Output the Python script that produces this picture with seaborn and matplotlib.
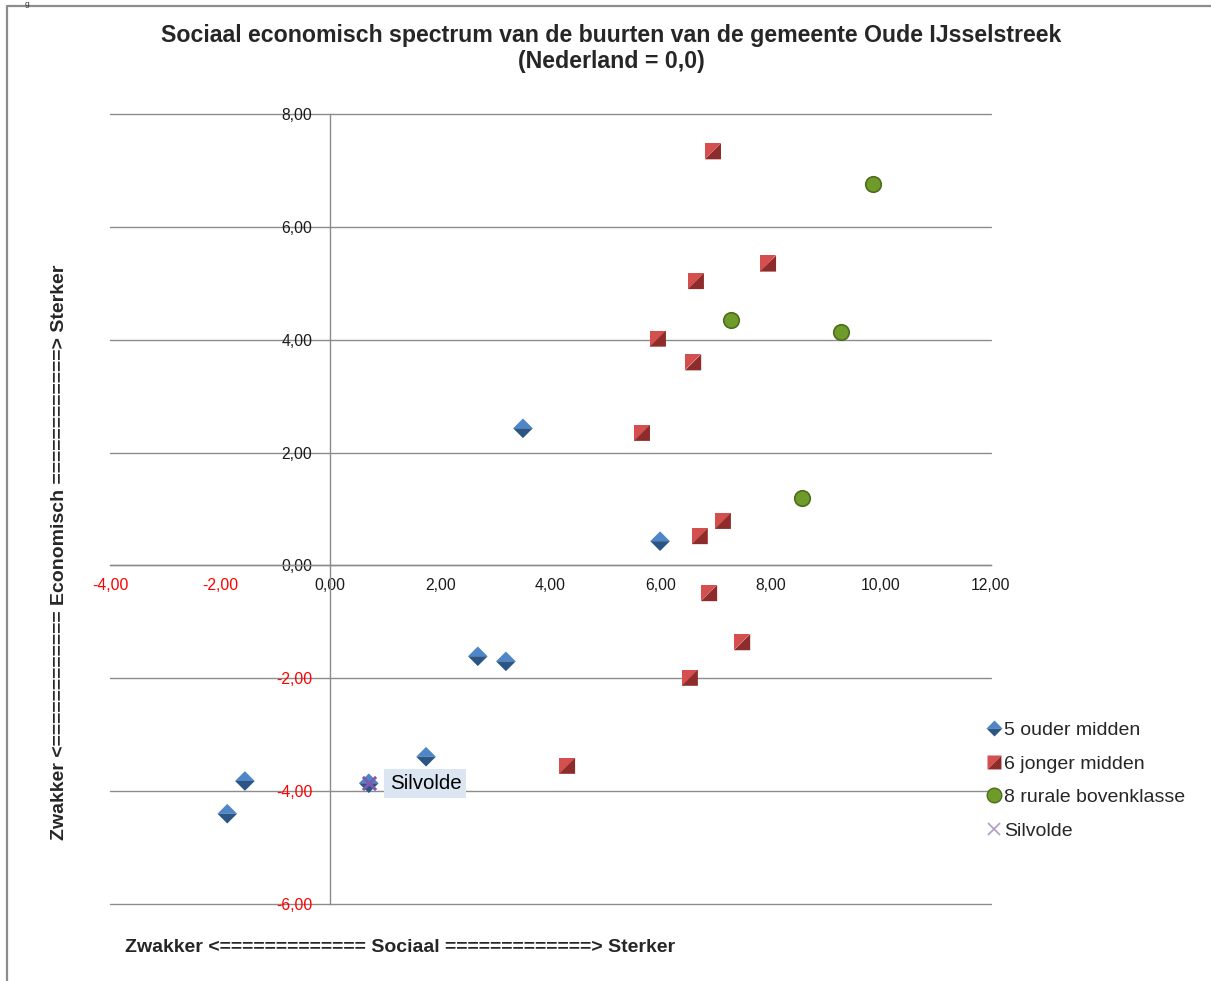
import numpy as np
import pandas as pd
import matplotlib
matplotlib.use("Agg")
import matplotlib.pyplot as plt
from matplotlib.path import Path
from matplotlib.lines import Line2D
from matplotlib.legend_handler import HandlerTuple
import seaborn as sns

# Buurten per groep: sociaal (x) en economisch (y) score, Nederland = 0,0
ouder_x = [3.50, 5.99, 2.68, 3.19, 1.74, -1.55, -1.87, 0.70]
ouder_y = [2.43, 0.43, -1.61, -1.70, -3.39, -3.82, -4.40, -3.86]
jonger_x = [6.95, 7.95, 6.64, 5.95, 6.59, 5.66, 7.13, 6.71, 6.88, 7.48, 6.53, 4.30]
jonger_y = [7.34, 5.35, 5.04, 4.02, 3.60, 2.35, 0.79, 0.52, -0.49, -1.36, -1.99, -3.55]
rural_x = [9.86, 7.28, 9.27, 8.57]
rural_y = [6.76, 4.35, 4.14, 1.19]
silvolde_x = [0.70]
silvolde_y = [-3.86]

series_names = ["5 ouder midden", "6 jonger midden", "8 rurale bovenklasse", "Silvolde"]
x_ticks = [-4, -2, 0, 2, 4, 6, 8, 10, 12]
y_ticks = [-6, -4, -2, 0, 2, 4, 6, 8]

title = "Sociaal economisch spectrum van de buurten van de gemeente Oude IJsselstreek\n(Nederland = 0,0)"
x_title = "Zwakker <============= Sociaal =============> Sterker"
y_title = "Zwakker <============ Economisch ============> Sterker"

sns.set_theme(style="white")
plt.rcParams["font.family"] = ["Liberation Sans", "DejaVu Sans"]

W, H = 1211, 981
fig = plt.figure(figsize=(W / 100, H / 100), dpi=100)
fig.patch.set_facecolor("white")
ax = fig.add_axes([110 / W, 1 - 904 / H, (991 - 110) / W, (904 - 114) / H])

# bevelled marker halves
diamond_top = Path([(-1, 0), (0, 1), (1, 0), (-1, 0)], closed=True)
diamond_bot = Path([(-1, 0), (0, -1), (1, 0), (-1, 0)], closed=True)
square_ul = Path([(-1, -1), (-1, 1), (1, 1), (-1, -1)], closed=True)
square_lr = Path([(-1, -1), (1, 1), (1, -1), (-1, -1)], closed=True)

df_ouder = pd.DataFrame({"x": ouder_x, "y": ouder_y})
df_jonger = pd.DataFrame({"x": jonger_x, "y": jonger_y})
df_rural = pd.DataFrame({"x": rural_x, "y": rural_y})
df_silv = pd.DataFrame({"x": silvolde_x, "y": silvolde_y})

BLUE_L, BLUE_D = "#4f86c8", "#2b5585"
RED_L, RED_D = "#d64f4f", "#8e2b2b"
GREEN, GREEN_E = "#6f9b2a", "#4d6d1c"
PURPLE = "#7e5aae"

ms_d = 200
sns.scatterplot(data=df_ouder, x="x", y="y", marker=diamond_top, s=ms_d, color=BLUE_L,
                edgecolor="none", linewidth=0, ax=ax, legend=False, zorder=4)
sns.scatterplot(data=df_ouder, x="x", y="y", marker=diamond_bot, s=ms_d, color=BLUE_D,
                edgecolor="none", linewidth=0, ax=ax, legend=False, zorder=4)
ms_s = 135
sns.scatterplot(data=df_jonger, x="x", y="y", marker=square_ul, s=ms_s, color=RED_L,
                edgecolor="none", linewidth=0, ax=ax, legend=False, zorder=4)
sns.scatterplot(data=df_jonger, x="x", y="y", marker=square_lr, s=ms_s, color=RED_D,
                edgecolor="none", linewidth=0, ax=ax, legend=False, zorder=4)
sns.scatterplot(data=df_rural, x="x", y="y", marker="o", s=125, color=GREEN,
                edgecolor=GREEN_E, linewidth=1.2, ax=ax, legend=False, zorder=4)
sns.scatterplot(data=df_silv, x="x", y="y", marker="x", s=90, color=PURPLE,
                linewidth=2.2, ax=ax, legend=False, zorder=5)

for sx, sy in zip(silvolde_x, silvolde_y):
    ax.annotate("Silvolde", (sx, sy), xytext=(15, 0), textcoords="offset points",
                ha="left", va="center", fontsize=14.8, color="black",
                bbox=dict(boxstyle="square,pad=0.25", facecolor="#dce6f2", edgecolor="none"),
                zorder=6)

ax.set_xlim(-4, 12)
ax.set_ylim(-6, 8)
ax.set_xticks(x_ticks)
ax.set_yticks(y_ticks)
fmt = lambda v: f"{v:.2f}".replace(".", ",")
ax.set_xticklabels([fmt(v) for v in x_ticks])
ax.set_yticklabels([fmt(v) for v in y_ticks])

GRAY = "#8c8c8c"
ax.yaxis.grid(True, color=GRAY, linewidth=1.0)
ax.xaxis.grid(False)
ax.set_axisbelow(True)
for side in ["top", "right"]:
    ax.spines[side].set_visible(False)
ax.spines["left"].set_position(("data", 0))
ax.spines["bottom"].set_position(("data", 0))
for side in ["left", "bottom"]:
    ax.spines[side].set_color(GRAY)
    ax.spines[side].set_linewidth(1.0)
ax.tick_params(axis="x", direction="out", length=4, width=1, color=GRAY, pad=5, labelsize=11.3)
ax.tick_params(axis="y", length=0, pad=13, labelsize=11.3)
for lab, v in zip(ax.get_xticklabels(), x_ticks):
    lab.set_color("#ff0000" if v < 0 else "#1a1a1a")
for lab, v in zip(ax.get_yticklabels(), y_ticks):
    lab.set_color("#ff0000" if v < 0 else "#1a1a1a")
for gl in ax.get_ygridlines():
    gl.set_clip_on(False)
ax.set_xlabel("")
ax.set_ylabel("")
ax.patch.set_alpha(0)

# titles
fig.text(611.5 / W, 1 - 48.5 / H, title, ha="center", va="center", fontsize=16.7,
         fontweight="bold", linespacing=1.22)
fig.text(400 / W, 1 - 948 / H, x_title, ha="center", va="center", fontsize=14, fontweight="bold")
fig.text(60 / W, 1 - 552 / H, y_title, ha="center", va="center", rotation=90,
         fontsize=14, fontweight="bold")

# legend
h_ouder = (Line2D([], [], ls="none", marker=diamond_top, ms=11.5, mfc=BLUE_L, mec="none"),
           Line2D([], [], ls="none", marker=diamond_bot, ms=11.5, mfc=BLUE_D, mec="none"))
h_jonger = (Line2D([], [], ls="none", marker=square_ul, ms=10, mfc=RED_L, mec="none"),
            Line2D([], [], ls="none", marker=square_lr, ms=10, mfc=RED_D, mec="none"))
h_rural = Line2D([], [], ls="none", marker="o", ms=10.5, mfc=GREEN, mec=GREEN_E, mew=1)
h_silv = Line2D([], [], ls="none", marker="x", ms=9, mec="#b3a2c7", mew=1.3)
fig.legend([h_ouder, h_jonger, h_rural, h_silv], series_names,
           handler_map={tuple: HandlerTuple(ndivide=1, pad=0)},
           loc="upper left", bbox_to_anchor=(986 / W, 1 - 721.5 / H), frameon=False,
           fontsize=14, handlelength=0.85, handletextpad=0.1, labelspacing=0.82,
           borderaxespad=0, borderpad=0)

# chart-area frame and heading glyph
fig.add_artist(Line2D([7 / W, 7 / W, 1], [0, 1 - 6 / H, 1 - 6 / H], transform=fig.transFigure,
                      color="#8c8c8c", linewidth=1.6))
fig.text(25 / W, 1 - 0.5 / H, "g", ha="left", va="top", fontsize=6, color="#333333")

fig.savefig("out.png", dpi=100, facecolor="white")
